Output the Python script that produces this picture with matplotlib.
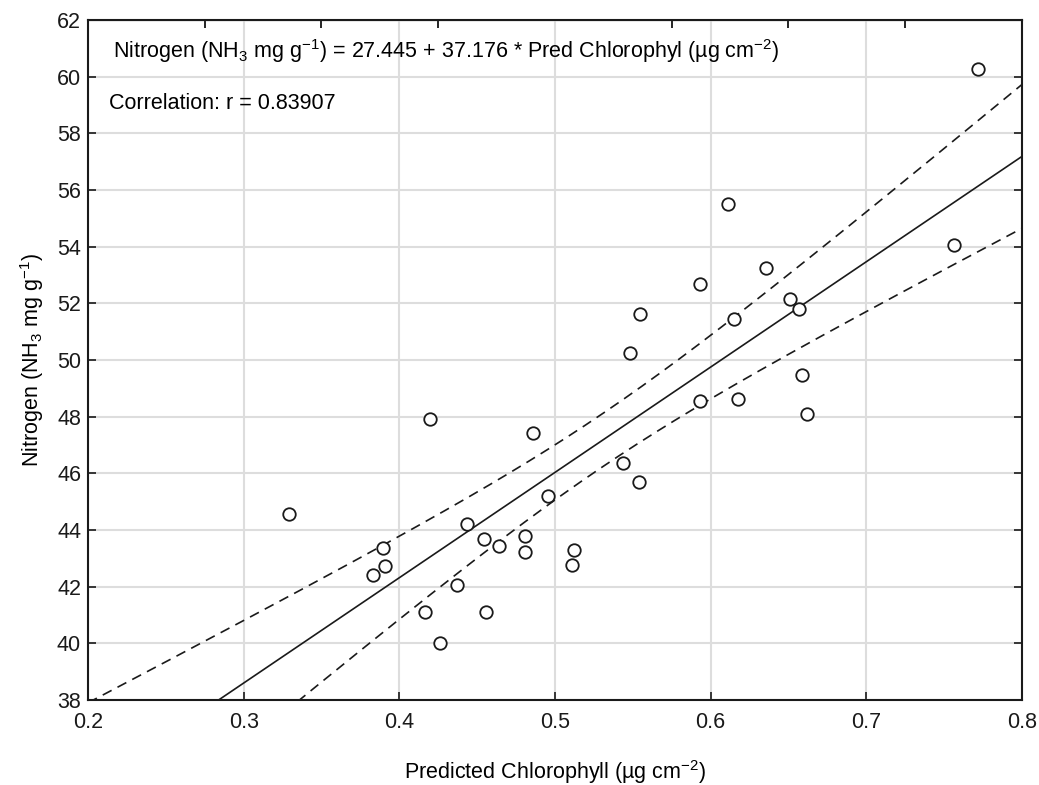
import numpy as np
import matplotlib
matplotlib.use('Agg')
import matplotlib.pyplot as plt

plt.rcParams['font.family'] = ['Liberation Sans', 'DejaVu Sans']
plt.rcParams['mathtext.default'] = 'regular'

# Predicted chlorophyll (x) and nitrogen (y)
chl = [0.329, 0.383, 0.3895, 0.3906, 0.4167, 0.4199, 0.4263, 0.4373, 0.4437, 0.4546,
       0.4557, 0.4642, 0.4805, 0.4805, 0.4861, 0.4953, 0.5109, 0.5122, 0.5435, 0.5479,
       0.5542, 0.5546, 0.5934, 0.5934, 0.6109, 0.6152, 0.6173, 0.6358, 0.6512, 0.6565,
       0.6587, 0.6619, 0.7563, 0.7717]
nitro = [44.56, 42.41, 43.37, 42.72, 41.09, 47.91, 40.02, 42.06, 44.20, 43.67,
         41.09, 43.43, 43.79, 43.23, 47.44, 45.21, 42.76, 43.30, 46.35, 50.25,
         45.70, 51.62, 52.69, 48.56, 55.51, 51.45, 48.63, 53.24, 52.15, 51.80,
         49.47, 48.09, 54.07, 60.27]

intercept = 27.445
slope = 37.176

x = np.array(chl)
y = np.array(nitro)
n = len(x)

# 95% confidence band for the regression line
xs = np.linspace(0.2, 0.8, 200)
fit = intercept + slope * xs
resid = y - (intercept + slope * x)
s = np.sqrt(np.sum(resid ** 2) / (n - 2))
t = 2.037
half = t * s * np.sqrt(1.0 / n + (xs - x.mean()) ** 2 / np.sum((x - x.mean()) ** 2))

fig = plt.figure(figsize=(10.39, 7.85), dpi=100)
ax = fig.add_axes([0.0847, 0.1083, 0.8989, 0.8662])

ax.grid(True, color='#dddddd', lw=1.5)
ax.set_axisbelow(True)

ax.plot(xs, fit, color='#1a1a1a', lw=1.2)
ax.plot(xs, fit + half, color='#1a1a1a', lw=1.2, ls=(0, (6, 4)))
ax.plot(xs, fit - half, color='#1a1a1a', lw=1.2, ls=(0, (6, 4)))
ax.plot(x, y, 'o', mfc='white', mec='#1a1a1a', mew=1.3, ms=9, zorder=5)

ax.set_xlim(0.2, 0.8)
ax.set_ylim(38, 62)
ax.set_xticks(np.arange(0.2, 0.81, 0.1))
ax.set_xticklabels(['0.2', '0.3', '0.4', '0.5', '0.6', '0.7', '0.8'])
ax.set_yticks(np.arange(38, 63, 2))
ax.tick_params(direction='in', length=6, width=1.2, labelsize=15.5, pad=5,
               right=True, colors='#1a1a1a')
ax.tick_params(axis='x', pad=9)
for sp in ax.spines.values():
    sp.set_linewidth(1.5)
    sp.set_color('#1a1a1a')

top = ax.secondary_xaxis('top')
top.set_xticks(np.arange(0.2, 0.81, 0.075))
top.tick_params(direction='in', length=6, width=1.2, labeltop=False)

ax.set_xlabel('Predicted Chlorophyll (µg cm$^{-2}$)', fontsize=15.5, labelpad=18)
ax.set_ylabel('Nitrogen (NH$_3$ mg g$^{-1}$)', fontsize=15.5, labelpad=8)

ax.text(0.027, 0.954, 'Nitrogen (NH$_3$ mg g$^{-1}$) = 27.445 + 37.176 * Pred Chlorophyl (µg cm$^{-2}$)',
        transform=ax.transAxes, fontsize=15.5, va='center', ha='left')
ax.text(0.022, 0.877, 'Correlation: r = 0.83907',
        transform=ax.transAxes, fontsize=15.5, va='center', ha='left')

fig.savefig('out.png', dpi=100)
